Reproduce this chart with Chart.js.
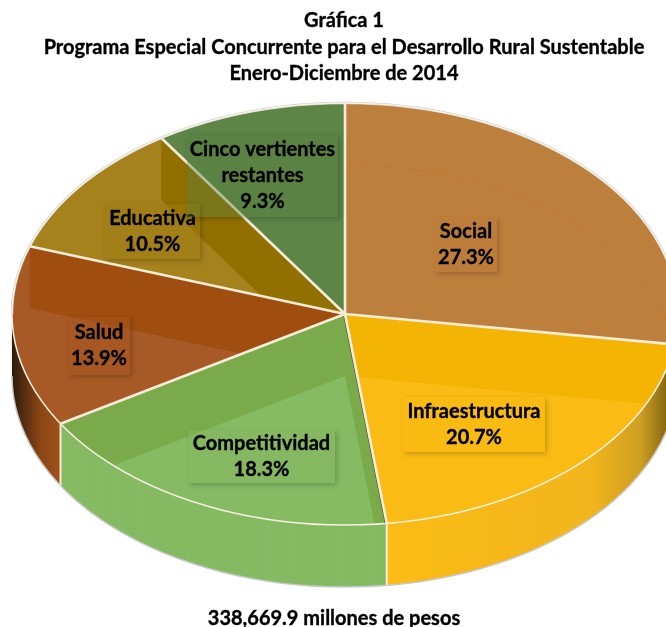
<!DOCTYPE html>
<html>
<head>
<meta charset="utf-8">
<title>Gráfica 1</title>
<script src="https://cdn.jsdelivr.net/npm/chart.js@4/dist/chart.umd.min.js"></script>
<style>
  html, body { margin: 0; padding: 0; background: #fff; }
  canvas { display: block; }
</style>
</head>
<body>
<canvas id="pie-chart" width="666" height="627"></canvas>
<script>
// data
const categories = ["Social", "Infraestructura", "Competitividad", "Salud", "Educativa", "Cinco vertientes restantes"];
const shares = [27.3, 20.7, 18.3, 13.9, 10.5, 9.3];
const labelLines = [["Social"], ["Infraestructura"], ["Competitividad"], ["Salud"], ["Educativa"], ["Cinco vertientes", "restantes"]];
const titleLines = ["Gráfica 1", "Programa Especial Concurrente para el Desarrollo Rural Sustentable", "Enero-Diciembre de 2014"];
const footerText = "338,669.9 millones de pesos";

// slice styles
const lightColors = ["#bd7f3c", "#fabb14", "#86ba63", "#a85a26", "#a6821c", "#5c8546"];
const darkColors = ["#bd7f3c", "#f4b404", "#7aaa4a", "#a04e10", "#917000", "#5c8546"];
const boxColors = ["#bb7a38", "#f7b80f", "#84b65e", "#a5561f", "#a07c12", "#58803f"];
// side wall shading, stops are fractions of the pie width
const wallStops = [
  null,
  [[0.55, "#fbbc14"], [0.868, "#f2b51c"], [0.943, "#cf9f22"], [0.982, "#8a6a12"], [1, "#6b5210"]],
  null,
  [[0, "#2e1a0c"], [0.02, "#5a3010"], [0.042, "#8a4513"], [0.074, "#a0521c"]],
  null,
  null,
];
// label boxes: x, y, w, h
const labelBoxes = [
  [435, 217, 62, 55],
  [403, 397, 142, 55],
  [188, 430, 147, 53],
  [68, 317, 62, 58],
  [105, 204, 95, 55],
  [187, 135, 151, 82],
];

// pie geometry on the page
const pieX = 345, pieY = 314, pieRx = 333, pieRy = 211, pieDepth = 62;
const textFont = "bold 20px Lato";

function toPie(ctx, arc, dy) {
  ctx.translate(pieX, pieY + dy);
  ctx.scale(pieRx / arc.outerRadius, pieRy / arc.outerRadius);
  ctx.translate(-arc.x, -arc.y);
}

function slicePath(ctx, arc) {
  ctx.beginPath();
  ctx.moveTo(arc.x, arc.y);
  ctx.arc(arc.x, arc.y, arc.outerRadius, arc.startAngle, arc.endAngle);
  ctx.closePath();
}

function edgePoint(arc, angle) {
  return [pieX + Math.cos(angle) * pieRx, pieY + Math.sin(angle) * pieRy];
}

function drawWalls(ctx, arcs) {
  const fills = arcs.map(function (arc, i) {
    if (!wallStops[i]) return lightColors[i];
    const g = ctx.createLinearGradient(arc.x - arc.outerRadius, 0, arc.x + arc.outerRadius, 0);
    wallStops[i].forEach(function (s) { g.addColorStop(s[0], s[1]); });
    return g;
  });
  for (let dy = pieDepth; dy > 0; dy--) {
    arcs.forEach(function (arc, i) {
      const keep = arc.options;
      arc.options = Object.assign({}, keep, { backgroundColor: fills[i] });
      ctx.save();
      toPie(ctx, arc, dy);
      arc.draw(ctx);
      ctx.restore();
      arc.options = keep;
    });
  }
}

// darker band on the top face, the radial walls seen through it
function drawBands(ctx, arcs) {
  arcs.forEach(function (arc, i) {
    ctx.save();
    ctx.save();
    toPie(ctx, arc, 0);
    slicePath(ctx, arc);
    ctx.restore();
    ctx.clip();
    ctx.fillStyle = darkColors[i];
    [arc.startAngle, arc.endAngle].forEach(function (a) {
      const p = edgePoint(arc, a);
      ctx.beginPath();
      ctx.moveTo(pieX, pieY);
      ctx.lineTo(p[0], p[1]);
      ctx.lineTo(p[0], p[1] + pieDepth);
      ctx.lineTo(pieX, pieY + pieDepth);
      ctx.closePath();
      ctx.fill();
    });
    ctx.restore();
  });
  // faint back rim showing through Social
  const arc = arcs[0];
  ctx.save();
  ctx.save();
  toPie(ctx, arc, 0);
  slicePath(ctx, arc);
  ctx.restore();
  ctx.clip();
  ctx.save();
  toPie(ctx, arc, pieDepth);
  ctx.beginPath();
  ctx.arc(arc.x, arc.y, arc.outerRadius, arc.startAngle, arc.endAngle);
  ctx.restore();
  ctx.strokeStyle = "#c17a34";
  ctx.lineWidth = 1;
  ctx.stroke();
  ctx.restore();
}

function drawEdges(ctx, arcs) {
  const arc = arcs[0];
  ctx.lineJoin = "round";

  // outer contour
  ctx.strokeStyle = "#c8c8c8";
  ctx.lineWidth = 1.5;
  ctx.save();
  toPie(ctx, arc, pieDepth);
  ctx.beginPath();
  ctx.arc(arc.x, arc.y, arc.outerRadius, 0, Math.PI);
  ctx.restore();
  ctx.stroke();
  ctx.save();
  toPie(ctx, arc, 0);
  ctx.beginPath();
  ctx.arc(arc.x, arc.y, arc.outerRadius, Math.PI, Math.PI * 2);
  ctx.restore();
  ctx.lineWidth = 2.5;
  ctx.stroke();

  // rim of the top face
  ctx.strokeStyle = "#f7f2e2";
  ctx.lineWidth = 1.5;
  ctx.save();
  toPie(ctx, arc, 0);
  ctx.beginPath();
  ctx.arc(arc.x, arc.y, arc.outerRadius, 0, Math.PI * 2);
  ctx.restore();
  ctx.stroke();

  // dark seam left of the Infraestructura end cut
  const seam = edgePoint(arcs[1], arcs[1].endAngle);
  ctx.strokeStyle = "#5d5030";
  ctx.lineWidth = 1;
  ctx.beginPath();
  ctx.moveTo(pieX - 1.5, pieY);
  ctx.lineTo(seam[0] - 1.5, seam[1]);
  ctx.stroke();

  // radial cuts, and the vertical cut where one faces the front
  arcs.forEach(function (a) {
    const p = edgePoint(a, a.startAngle);
    ctx.strokeStyle = "#f5ecd9";
    ctx.lineWidth = 2.6;
    ctx.beginPath();
    ctx.moveTo(pieX, pieY);
    ctx.lineTo(p[0], p[1]);
    ctx.stroke();
    if (Math.sin(a.startAngle) > 0) {
      ctx.lineWidth = 2;
      ctx.beginPath();
      ctx.moveTo(p[0], p[1]);
      ctx.lineTo(p[0], p[1] + pieDepth);
      ctx.stroke();
    }
  });
}

// Lato bold is a bit lighter than the reference, so add a hairline stroke
function boldText(ctx, t, x, y) {
  ctx.fillStyle = "#000";
  ctx.strokeStyle = "#000";
  ctx.lineWidth = 0.35;
  ctx.font = textFont;
  ctx.textAlign = "center";
  ctx.textBaseline = "middle";
  ctx.fillText(t, x, y);
  ctx.strokeText(t, x, y);
}

function drawLabels(ctx) {
  labelBoxes.forEach(function (b, i) {
    // soft shadow outside the box only
    ctx.save();
    ctx.beginPath();
    ctx.rect(0, 0, 666, 627);
    ctx.rect(b[0], b[1], b[2], b[3]);
    ctx.clip("evenodd");
    ctx.shadowColor = "rgba(0,0,0,0.2)";
    ctx.shadowBlur = 5;
    ctx.shadowOffsetX = 2;
    ctx.shadowOffsetY = 2;
    ctx.fillStyle = boxColors[i];
    ctx.fillRect(b[0], b[1], b[2], b[3]);
    ctx.restore();

    ctx.save();
    ctx.globalAlpha = 0.4;
    ctx.fillStyle = boxColors[i];
    ctx.fillRect(b[0], b[1], b[2], b[3]);
    ctx.restore();

    const lines = labelLines[i].concat(shares[i].toFixed(1) + "%");
    const lineGap = 26;
    const cx = b[0] + b[2] / 2;
    const top = b[1] + b[3] / 2 - (lines.length - 1) * lineGap / 2;
    lines.forEach(function (t, k) {
      boldText(ctx, t, cx, top + k * lineGap);
    });
  });
}

function drawTitles(ctx) {
  titleLines.forEach(function (t, k) {
    boldText(ctx, t, 344, 21 + k * 26.5);
  });
  boldText(ctx, footerText, 334, 619);
}

const pie3d = {
  id: "pie3d",
  beforeDatasetsDraw: function (chart) {
    const ctx = chart.ctx;
    const arcs = chart.getDatasetMeta(0).data;
    drawWalls(ctx, arcs);
    arcs.forEach(function (arc) {
      ctx.save();
      toPie(ctx, arc, 0);
      arc.draw(ctx);
      ctx.restore();
    });
    drawBands(ctx, arcs);
    drawEdges(ctx, arcs);
    drawLabels(ctx);
    drawTitles(ctx);
    return false;
  },
};

new Chart(document.getElementById("pie-chart"), {
  type: "pie",
  plugins: [pie3d],
  data: {
    labels: categories,
    datasets: [{ data: shares, backgroundColor: lightColors, borderWidth: 0 }],
  },
  options: {
    responsive: false,
    animation: false,
    devicePixelRatio: 1,
    layout: { padding: 0 },
    plugins: {
      legend: { display: false },
      tooltip: { enabled: false },
    },
  },
});
</script>
</body>
</html>
